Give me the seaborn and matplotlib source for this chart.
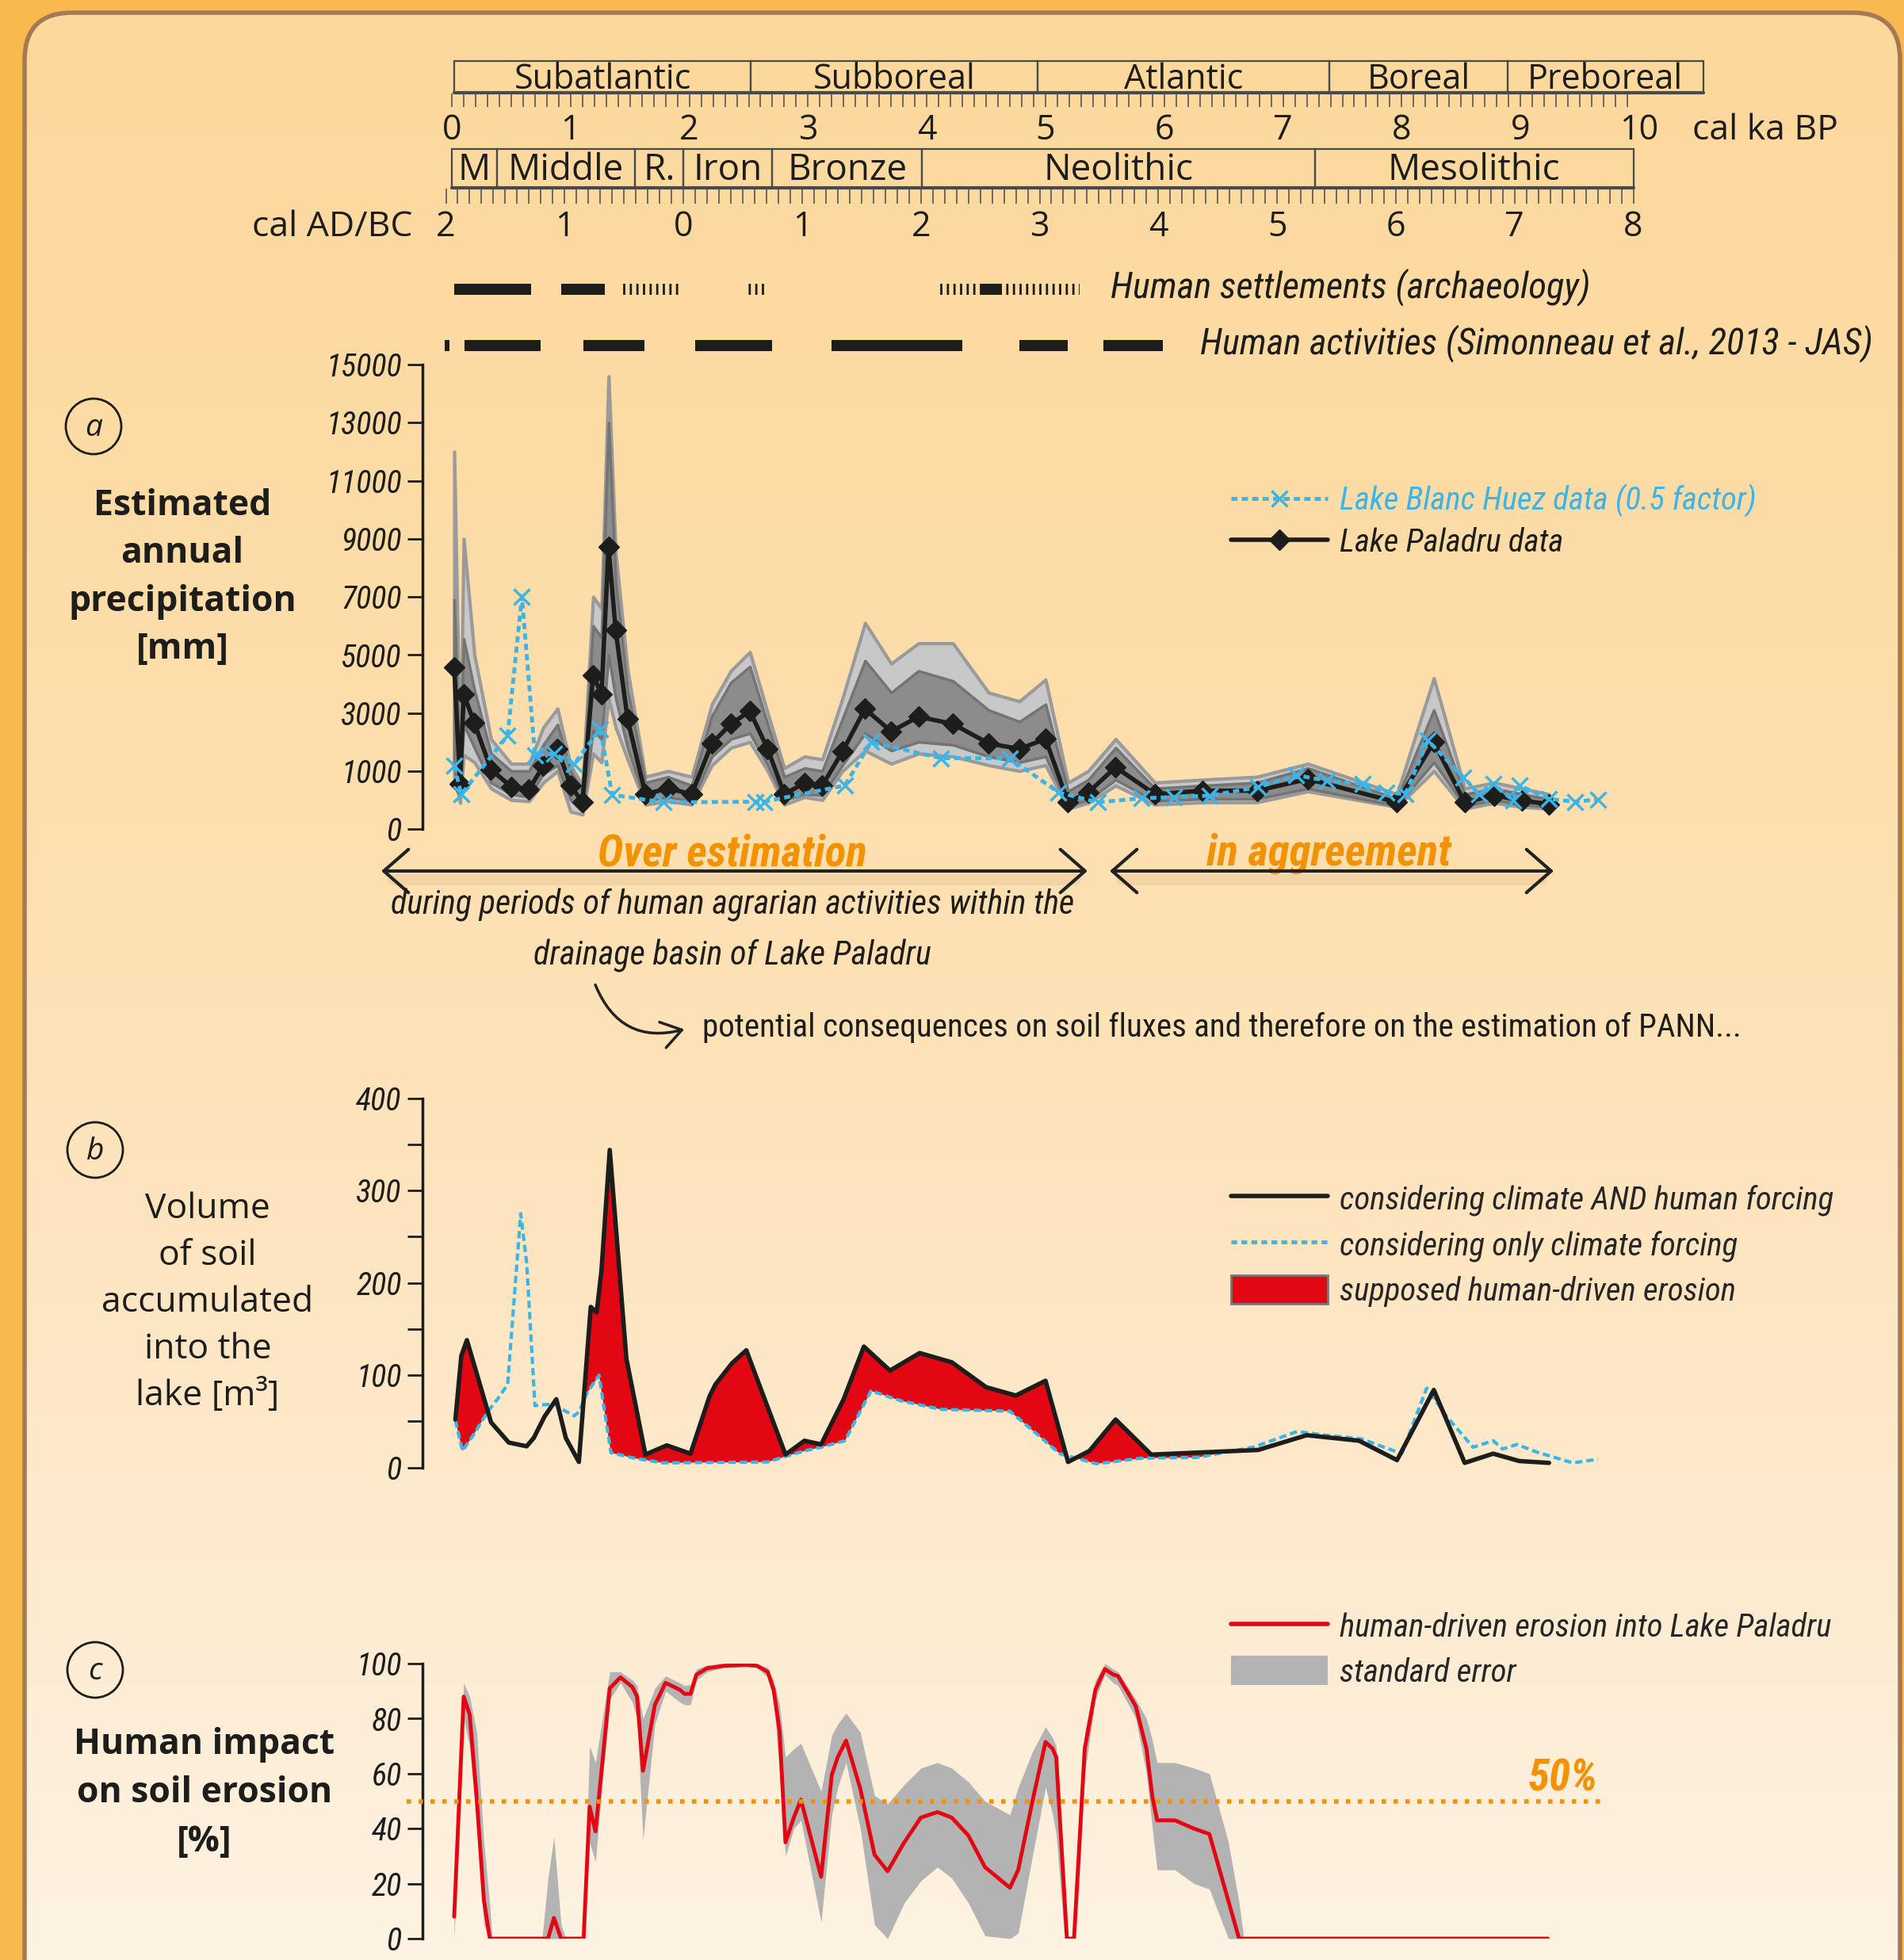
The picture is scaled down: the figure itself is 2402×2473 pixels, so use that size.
import numpy as np
import matplotlib
matplotlib.use("Agg")
import matplotlib.pyplot as plt
import seaborn as sns
from matplotlib import font_manager as fm
from matplotlib.textpath import TextToPath
from matplotlib.patches import FancyBboxPatch, Patch, Circle
from matplotlib.lines import Line2D
from matplotlib.colors import LinearSegmentedColormap
from matplotlib.ticker import FuncFormatter

sns.set_style("ticks")
SANS = ['Open Sans', 'DejaVu Sans']
plt.rcParams['font.family'] = SANS
plt.rcParams['hatch.linewidth'] = 2.0

# pick the narrowest installed family for the condensed italic labels
COND, COND_STRETCH = ['Roboto', 'DejaVu Sans'], 'normal'
_names = {f.name for f in fm.fontManager.ttflist}
for cand in ['Liberation Sans Narrow', 'Roboto Condensed', 'Open Sans Condensed', 'Noto Sans Condensed',
             'DejaVu Sans Condensed', 'Arial Narrow']:
    if cand in _names:
        COND = [cand, 'DejaVu Sans']
        break
else:
    for fam in ['Noto Sans', 'Open Sans', 'DejaVu Sans']:
        if any(f.name == fam and str(f.stretch) in ('condensed', 'semi-condensed', 'extra-condensed')
               for f in fm.fontManager.ttflist):
            COND, COND_STRETCH = [fam, 'DejaVu Sans'], 'condensed'
            break


def fit_size(s, target_px, weight='normal', style='italic'):
    prop = fm.FontProperties(family=COND, style=style, weight=weight, stretch=COND_STRETCH, size=10)
    w, _, _ = TextToPath().get_text_width_height_descent(s, prop, ismath=False)
    return 10 * target_px / (w * 100 / 72)


# ------------------------------------------------------------
# DATA (ages in cal ka BP)
# ------------------------------------------------------------
climate_periods = ['Subatlantic', 'Subboreal', 'Atlantic', 'Boreal', 'Preboreal']
climate_start = [0.02, 2.52, 4.93, 7.39, 8.89]
climate_end = [2.52, 4.93, 7.39, 8.89, 10.54]
archaeo_periods = ['M', 'Middle', 'R.', 'Iron', 'Bronze', 'Neolithic', 'Mesolithic']
archaeo_start = [0.0, 0.38, 1.54, 1.95, 2.70, 3.96, 7.27]
archaeo_end = [0.38, 1.54, 1.95, 2.70, 3.96, 7.27, 9.95]
bp_ticks = [0, 1, 2, 3, 4, 5, 6, 7, 8, 9, 10]
adbc_labels = ['2', '1', '0', '1', '2', '3', '4', '5', '6', '7', '8']
adbc_pos = [-0.05, 0.95, 1.95, 2.95, 3.95, 4.95, 5.95, 6.95, 7.95, 8.95, 9.95]

settle_solid_start = [0.02, 0.92, 4.46]
settle_solid_end = [0.67, 1.29, 4.63]
settle_hatch_start = [1.44, 2.46, 4.09]
settle_hatch_end = [1.94, 2.66, 5.29]
activ_start = [-0.06, 0.11, 1.11, 2.05, 3.20, 4.78, 5.49]
activ_end = [-0.02, 0.75, 1.62, 2.70, 4.30, 5.19, 5.99]

# panel a : Lake Paladru PANN
pal_age = [0.02, 0.07, 0.10, 0.19, 0.33, 0.50, 0.65, 0.77, 0.89, 1.00, 1.10, 1.19, 1.26, 1.32, 1.38, 1.48,
           1.63, 1.82, 2.02, 2.19, 2.35, 2.51, 2.66, 2.80, 2.97, 3.12, 3.29, 3.48, 3.70, 3.93, 4.22, 4.52,
           4.78, 5.00, 5.19, 5.36, 5.59, 5.92, 6.32, 6.78, 7.21, 7.96, 8.27, 8.53, 8.78, 9.01, 9.24]
pal_mean = [4580, 780, 3650, 2650, 1050, 730, 680, 1180, 1760, 750, 460, 4310, 3630, 8710, 5840, 2790,
            600, 700, 600, 1950, 2620, 3060, 1760, 600, 790, 750, 1670, 3140, 2360, 2870, 2620, 1950,
            1760, 2100, 460, 630, 1130, 600, 660, 660, 860, 460, 1990, 460, 580, 490, 430]
pal_in_hi = [6900, 1000, 5550, 3800, 1600, 1000, 1000, 1900, 2600, 1000, 650, 6000, 5600, 13000, 7500, 3800,
             800, 900, 750, 2900, 4050, 4600, 2600, 900, 1100, 1000, 2800, 4800, 3700, 4450, 4100, 3100,
             2700, 3300, 650, 850, 1800, 700, 750, 800, 1100, 520, 3100, 600, 700, 600, 520]
pal_in_lo = [1100, 600, 2600, 1800, 800, 600, 550, 950, 1200, 500, 300, 2400, 2100, 5000, 3500, 1800,
             480, 550, 480, 1500, 2100, 2300, 1200, 500, 600, 580, 1200, 2300, 1700, 2000, 1900, 1500,
             1300, 1500, 400, 500, 850, 480, 520, 520, 700, 400, 1300, 400, 500, 420, 380]
pal_out_hi = [12000, 1200, 9000, 5000, 2100, 1250, 1250, 2500, 3150, 1200, 750, 7000, 6600, 14600, 8500, 4500,
              900, 1000, 900, 3300, 4450, 5100, 3000, 1100, 1500, 1400, 3500, 6100, 4700, 5400, 5400, 3700,
              3400, 4150, 800, 1000, 2100, 800, 850, 900, 1250, 600, 4200, 700, 800, 700, 600]
pal_out_lo = [900, 450, 1550, 1300, 700, 500, 480, 800, 1000, 300, 250, 1600, 1300, 3500, 2500, 1400,
              420, 480, 420, 1200, 1800, 2000, 1000, 420, 550, 500, 1000, 1700, 1250, 1600, 1500, 1200,
              1000, 1200, 350, 450, 750, 420, 460, 460, 650, 380, 1000, 350, 450, 380, 350]

# panel a : Lake Blanc Huez (0.5 factor)
bh_age = [0.02, 0.08, 0.47, 0.59, 0.70, 0.86, 1.03, 1.25, 1.35, 1.78, 2.56, 2.63, 3.31, 3.53, 4.12, 4.70,
          5.11, 5.44, 5.81, 6.08, 6.38, 6.79, 7.11, 7.37, 7.67, 7.87, 8.03, 8.22, 8.52, 8.65, 8.77, 8.94,
          8.99, 9.24, 9.46, 9.65]
bh_pann = [1180, 600, 2220, 7010, 1550, 1590, 1240, 2450, 590, 460, 470, 470, 750, 1990, 1440, 1440,
           630, 460, 530, 550, 575, 720, 930, 830, 780, 630, 600, 2050, 890, 600, 780, 490,
           750, 520, 470, 510]

# panel b : soil volume
vol_h_age = [0.03, 0.08, 0.127, 0.33, 0.48, 0.63, 0.69, 0.78, 0.88, 0.96, 1.07, 1.17, 1.22, 1.26, 1.33, 1.47,
             1.63, 1.81, 2.01, 2.17, 2.22, 2.36, 2.48, 2.81, 2.97, 3.11, 3.30, 3.47, 3.69, 3.94, 4.21, 4.50,
             4.75, 5.00, 5.19, 5.37, 5.59, 5.89, 6.79, 7.20, 7.64, 7.96, 8.27, 8.53, 8.77, 8.99, 9.24]
vol_h = [52, 121, 138, 49, 27, 23, 32, 55, 74, 32, 6, 174, 168, 213, 344, 118,
         14, 24, 15, 77, 90, 113, 127, 14, 29, 25, 74, 131, 105, 124, 114, 87,
         78, 94, 6, 18, 52, 14, 19, 35, 29, 8, 84, 5, 15, 7, 5]
vol_c_age = [0.03, 0.09, 0.18, 0.30, 0.39, 0.47, 0.58, 0.63, 0.70, 0.86, 0.93, 1.03, 1.07, 1.14, 1.24, 1.34,
             1.54, 1.78, 2.66, 2.81, 2.97, 3.11, 3.31, 3.53, 3.79, 4.12, 4.70, 4.82, 5.12, 5.43, 5.80, 6.28,
             6.75, 7.12, 7.36, 7.66, 8.00, 8.21, 8.38, 8.60, 8.77, 8.85, 8.97, 9.13, 9.44, 9.65]
vol_c = [51, 18, 35, 60, 75, 90, 275, 222, 67, 69, 63, 56, 60, 81, 100, 16,
         10, 5, 6, 12, 18, 22, 29, 83, 72, 63, 61, 48, 15, 4, 10, 11,
         22, 39, 35, 31, 15, 86, 55, 22, 29, 20, 25, 17, 5, 9]

# panel c : human impact on soil erosion [%]
imp_age = [0.02, 0.10, 0.15, 0.21, 0.27, 0.32, 0.81, 0.86, 0.92, 1.11, 1.16, 1.21, 1.33, 1.42, 1.52, 1.56,
           1.61, 1.71, 1.80, 1.92, 1.96, 2.01, 2.06, 2.15, 2.29, 2.48, 2.57, 2.66, 2.71, 2.76, 2.81, 2.88,
           2.94, 3.11, 3.20, 3.25, 3.32, 3.44, 3.56, 3.67, 3.81, 3.95, 4.09, 4.21, 4.35, 4.49, 4.70, 4.77,
           4.89, 5.00, 5.06, 5.09, 5.18, 5.24, 5.33, 5.42, 5.50, 5.57, 5.61, 5.70, 5.76, 5.85, 5.90, 5.94,
           6.09, 6.25, 6.38, 6.63, 9.23]
imp = [8, 88, 81.5, 51, 14, 0, 0, 7.5, 0, 0, 48, 39, 91, 95, 91.5, 88,
       61, 85, 93, 90.5, 89, 89, 96, 98.3, 99.2, 99.5, 99.2, 97, 90.5, 75.5, 35, 44,
       50.5, 22.5, 59.5, 66, 72, 54.5, 30.5, 24.5, 35, 44, 46, 44, 37.5, 26, 18.5, 25,
       50, 71.5, 69, 66, 0, 0, 69, 90.5, 98, 96, 95.5, 89, 84.5, 69, 51.5, 43,
       43, 40, 38, 0, 0]
se_age = [0.02, 0.10, 0.15, 0.21, 0.27, 0.32, 0.34, 0.76, 0.81, 0.86, 0.92, 0.96, 1.11, 1.16, 1.21, 1.33,
          1.42, 1.52, 1.56, 1.61, 1.71, 1.80, 1.92, 1.96, 2.01, 2.06, 2.15, 2.29, 2.48, 2.57, 2.66, 2.71,
          2.76, 2.81, 2.88, 2.94, 3.11, 3.20, 3.25, 3.32, 3.44, 3.56, 3.67, 3.81, 3.95, 4.09, 4.21, 4.35,
          4.49, 4.70, 4.77, 4.89, 5.00, 5.06, 5.09, 5.16, 5.26, 5.33, 5.42, 5.50, 5.57, 5.61, 5.70, 5.76,
          5.85, 5.90, 5.94, 6.09, 6.25, 6.38, 6.54, 6.63, 6.67]
se_hi = [22, 93, 88, 75, 35, 12, 0, 0, 22, 37, 5, 0, 0, 70, 64, 97,
         97, 94, 92, 80, 91, 95.5, 93, 92, 92.4, 98, 99.5, 100, 100, 100, 98.5, 94,
         85, 66, 69, 71, 53.5, 74, 78, 82, 75, 52, 49, 56, 62, 64, 62, 57,
         50, 45, 55, 68, 77, 73, 70, 0, 0, 75, 94, 100, 98, 97, 91, 87,
         80, 72, 64, 64, 62, 60, 35, 13, 0]
se_lo = [0, 80, 70, 40, 5, 0, 0, 0, 0, 0, 0, 0, 0, 35, 28, 87,
         93, 86, 80, 36, 78, 90, 86, 85, 85, 94, 97, 98.5, 99, 98.5, 95, 87,
         60, 30, 40, 43, 6, 45, 55, 64, 40, 5, 0, 13, 21, 26, 22, 13,
         1, 0, 2, 30, 55, 45, 38, 0, 0, 60, 87, 96, 93, 92, 85, 80,
         60, 40, 25, 25, 20, 18, 0, 0, 0]
threshold = 50
threshold_span = [-0.38, 9.69]

# ------------------------------------------------------------
# LAYOUT / STYLE
# ------------------------------------------------------------
W, H = 2402, 2473
KA0, PXKA = 570, 149.8          # pixel of 0 ka, pixels per ka
AX_L, AX_R = 533, 2068
BLUE = '#3CB4E6'
RED = '#E30613'
ORANGE = '#F39200'
INK = '#1d1d1b'

# font sizes fitted to the widths measured on the original
S_LEG = min(fit_size('Lake Blanc Huez data (0.5 factor)', 525),
            fit_size('considering climate AND human forcing', 629),
            fit_size('human-driven erosion into Lake Paladru', 640))
S_TICK = fit_size('15000', 96)
S_HUM = fit_size('Human settlements (archaeology)', 605)
S_NOTE = fit_size('during periods of human agrarian activities within the', 863)
S_PANN = fit_size('potential consequences on soil fluxes and therefore on the estimation of PANN...', 1311,
                  style='normal')
S_BIG = fit_size('Over estimation', 340, weight='bold')
CF = dict(family=COND, stretch=COND_STRETCH)
LEG_PX = S_LEG * 100 / 72


def fig_rect(top, bottom):
    return [AX_L / W, 1 - bottom / H, (AX_R - AX_L) / W, (bottom - top) / H]


fig = plt.figure(figsize=(W / 100, H / 100), dpi=100)

# background frame + gradient panel
bg = fig.add_axes([0, 0, 1, 1], zorder=-10)
bg.add_patch(plt.Rectangle((0, 0), W, H, color='#F9B94E', zorder=0))
cmap = LinearSegmentedColormap.from_list('paper', ['#FCD89C', '#FDDDA9', '#FDE6C3', '#FEF2E2'])
im = bg.imshow(np.linspace(0, 1, 256).reshape(-1, 1), extent=[0, W, H, 0], cmap=cmap,
               aspect='auto', zorder=1)
panel = FancyBboxPatch((31, 16), W - 36, H + 200, boxstyle="round,pad=0,rounding_size=60",
                       fc='none', ec='#A47A55', lw=4, zorder=2)
bg.add_patch(panel)
im.set_clip_path(panel)
bg.set_xlim(0, W)
bg.set_ylim(H, 0)
bg.axis('off')

# overlay for free text (pixel coordinates)
ov = fig.add_axes([0, 0, 1, 1], zorder=6)
ov.set_xlim(0, W)
ov.set_ylim(H, 0)
ov.axis('off')

# timescale axes: x in ka BP, y in pixel rows
ts = fig.add_axes([0, 0, 1, 1], zorder=2)
ts.set_xlim(-KA0 / PXKA, (W - KA0) / PXKA)
ts.set_ylim(H, 0)
ts.axis('off')

cs, ce = np.array(climate_start), np.array(climate_end)
ts.barh(97, ce - cs, left=cs, height=40, facecolor='none', edgecolor='#4a4a4a', lw=1.6)
ts.plot([cs[0], ce[-1]], [117, 117], color='#4a4a4a', lw=3)
for name, a, b in zip(climate_periods, cs, ce):
    ts.text((a + b) / 2, 101, name, ha='center', va='center', fontsize=31, color=INK)
ts.vlines(np.arange(0, 9.96, 0.1), 118, 135, color='#555555', lw=1.2)
for k in bp_ticks:
    ts.text(k, 165, str(k), ha='center', va='center', fontsize=31, color=INK)
ts.text(10.45, 165, 'cal ka BP', ha='left', va='center', fontsize=32, color=INK)

as_, ae = np.array(archaeo_start), np.array(archaeo_end)
ts.barh(212, ae - as_, left=as_, height=49, facecolor='none', edgecolor='#4a4a4a', lw=1.6)
ts.plot([as_[0], ae[-1]], [237, 237], color='#4a4a4a', lw=3)
for name, a, b in zip(archaeo_periods, as_, ae):
    ts.text((a + b) / 2, 215, name, ha='center', va='center', fontsize=33, color=INK)
ts.vlines(np.arange(-0.05, 9.96, 0.1), 238, 257, color='#555555', lw=1.2)
for lab, p in zip(adbc_labels, adbc_pos):
    ts.text(p, 287, lab, ha='center', va='center', fontsize=31, color=INK)
ts.text(-0.33, 287, 'cal AD/BC', ha='right', va='center', fontsize=32, color=INK)

ss, se = np.array(settle_solid_start), np.array(settle_solid_end)
hs, he = np.array(settle_hatch_start), np.array(settle_hatch_end)
ts.barh(365, he - hs, left=hs, height=14, facecolor='none', edgecolor=INK, hatch='||', lw=0)
ts.barh(365, se - ss, left=ss, height=14, color=INK, lw=0)
a0, a1 = np.array(activ_start), np.array(activ_end)
ts.barh(436, a1 - a0, left=a0, height=14, color=INK, lw=0)
ts.text(5.55, 362, 'Human settlements (archaeology)', ha='left', va='center',
        fontsize=S_HUM, style='italic', color=INK, **CF)
ts.text(6.30, 433, 'Human activities (Simonneau et al., 2013 - JAS)', ha='left', va='center',
        fontsize=S_HUM, style='italic', color=INK, **CF)


def style_axis(ax):
    sns.despine(ax=ax, bottom=True)
    ax.set_facecolor('none')
    ax.spines['left'].set_linewidth(2.5)
    ax.spines['left'].set_color(INK)
    ax.tick_params(axis='y', direction='out', length=14, width=2, pad=5, colors=INK)
    ax.set_xticks([])
    ax.set_xlim(-0.247, 10.0)
    ax.grid(False)


def style_ticklabels(ax):
    for t in ax.get_yticklabels():
        t.set_fontfamily(COND)
        t.set_fontstretch(COND_STRETCH)
        t.set_fontstyle('italic')
        t.set_fontsize(S_TICK)


def legend_kw(row_px):
    return dict(loc='center left', bbox_transform=ov.transData, frameon=False, borderpad=0,
                borderaxespad=0, handlelength=122 / LEG_PX, handletextpad=15 / LEG_PX,
                labelspacing=(row_px - 0.99 * LEG_PX) / LEG_PX,
                prop=dict(family=COND, stretch=COND_STRETCH, style='italic', size=S_LEG))


# ------------------------------------------------------------
# PANEL A
# ------------------------------------------------------------
axa = fig.add_axes(fig_rect(460, 1046), zorder=3)


def fwd(v):
    v = np.asarray(v, float)
    return np.where(v < 1000, v / 1000, 1 + (v - 1000) / 2000)


def inv(u):
    u = np.asarray(u, float)
    return np.where(u < 1, u * 1000, 1000 + (u - 1) * 2000)


axa.set_yscale('function', functions=(fwd, inv))
axa.fill_between(pal_age, pal_out_lo, pal_out_hi, facecolor='#C8C8C8', edgecolor='#9A9A9A', lw=3, zorder=1)
axa.fill_between(pal_age, pal_in_lo, pal_in_hi, facecolor='#8C8C8C', edgecolor='#747474', lw=2.5, zorder=2)
sns.lineplot(x=pal_age, y=pal_mean, ax=axa, color=INK, lw=4, marker='D', markersize=13,
             markeredgecolor=INK, markeredgewidth=1, estimator=None, sort=False, zorder=3)
sns.lineplot(x=bh_age, y=bh_pann, ax=axa, color=BLUE, lw=3.5, linestyle=(0, (1.6, 1.1)), marker='x',
             markersize=15, markeredgecolor=BLUE, markeredgewidth=2.5, estimator=None, sort=False, zorder=4)
style_axis(axa)
axa.set_ylim(0, 15000)
yt = [0, 1000, 3000, 5000, 7000, 9000, 11000, 13000, 15000]
axa.set_yticks(yt, labels=[str(v) for v in yt])
style_ticklabels(axa)
axa.set_ylabel('')
axa.legend(handles=[Line2D([], [], color=BLUE, lw=3.5, ls=(0, (1.6, 1.1)), marker='x', ms=15, mew=2.5),
                    Line2D([], [], color=INK, lw=4, marker='D', ms=13)],
           labels=['Lake Blanc Huez data (0.5 factor)', 'Lake Paladru data'],
           bbox_to_anchor=(1553, 657), **legend_kw(53))
for t, c in zip(axa.get_legend().get_texts(), [BLUE, INK]):
    t.set_color(c)

# ------------------------------------------------------------
# PANEL B
# ------------------------------------------------------------
axb = fig.add_axes(fig_rect(1385.7, 1851.6), zorder=3)
lo_x = max(vol_h_age[0], vol_c_age[0])
hi_x = min(vol_h_age[-1], vol_c_age[-1])
grid = np.union1d(vol_h_age, vol_c_age)
grid = grid[(grid >= lo_x) & (grid <= hi_x)]
yh = np.interp(grid, vol_h_age, vol_h)
yc = np.interp(grid, vol_c_age, vol_c)
axb.fill_between(grid, yc, yh, where=yh > yc, interpolate=True, color=RED, lw=0, zorder=1)
sns.lineplot(x=vol_c_age, y=vol_c, ax=axb, color=BLUE, lw=3, linestyle=(0, (2.2, 1.2)),
             estimator=None, sort=False, zorder=2)
sns.lineplot(x=vol_h_age, y=vol_h, ax=axb, color=INK, lw=4, estimator=None, sort=False, zorder=3)
style_axis(axb)
axb.set_ylim(0, 400)
axb.set_yticks(np.arange(0, 401, 50))
axb.yaxis.set_major_formatter(FuncFormatter(lambda v, p: f"{int(v)}" if v % 100 == 0 else ""))
style_ticklabels(axb)
axb.set_ylabel('')
axb.legend(handles=[Line2D([], [], color=INK, lw=4),
                    Line2D([], [], color=BLUE, lw=3.5, ls=(0, (1.5, 1.1))),
                    Patch(facecolor=RED, edgecolor='#777777', lw=2)],
           labels=['considering climate AND human forcing', 'considering only climate forcing',
                   'supposed human-driven erosion'],
           bbox_to_anchor=(1553, 1571), handleheight=1.0, **legend_kw(57.5))

# ------------------------------------------------------------
# PANEL C
# ------------------------------------------------------------
axc = fig.add_axes(fig_rect(2099, 2446), zorder=3)
axc.fill_between(se_age, se_lo, se_hi, color='#B3B3B3', lw=0, zorder=1)
sns.lineplot(x=imp_age, y=imp, ax=axc, color=RED, lw=3.5, estimator=None, sort=False, zorder=3)
axc.plot(threshold_span, [threshold, threshold], color=ORANGE, lw=4, ls=(0, (1, 1.7)),
         clip_on=False, zorder=4)
style_axis(axc)
axc.set_ylim(0, 100)
axc.set_yticks(np.arange(0, 101, 20), labels=[str(v) for v in range(0, 101, 20)])
style_ticklabels(axc)
axc.set_ylabel('')
axc.legend(handles=[Line2D([], [], color=RED, lw=4), Patch(facecolor='#B3B3B3', edgecolor='none')],
           labels=['human-driven erosion into Lake Paladru', 'standard error'],
           bbox_to_anchor=(1553, 2081), handleheight=1.0, **legend_kw(57))

# ------------------------------------------------------------
# TEXT / ANNOTATIONS
# ------------------------------------------------------------
ov.text(230, 729, 'Estimated\nannual\nprecipitation\n[mm]', ha='center', va='center',
        fontsize=32, fontweight='bold', linespacing=1.46, color=INK)
ov.text(262, 1644, 'Volume\nof soil\naccumulated\ninto the\nlake [m³]', ha='center', va='center',
        fontsize=32, linespacing=1.43, color=INK)
ov.text(258, 2263, 'Human impact\non soil erosion\n[%]', ha='center', va='center',
        fontsize=32, fontweight='bold', linespacing=1.48, color=INK)
for letter, (cx, cy) in zip(['a', 'b', 'c'], [(118, 538), (120, 1451), (120, 2107)]):
    ov.add_patch(Circle((cx, cy), 35, fill=False, ec=INK, lw=2))
    ov.text(cx, cy + 2, letter, ha='center', va='center', fontsize=28, style='italic', color=INK)

ov.text(924, 1077, 'Over estimation', ha='center', va='center', fontsize=S_BIG,
        style='italic', fontweight='bold', color=ORANGE, **CF)
ov.text(1676, 1077, 'in aggreement', ha='center', va='center', fontsize=S_BIG,
        style='italic', fontweight='bold', color=ORANGE, **CF)
for x0, x1 in [(481, 1372), (1400, 1960)]:
    ov.plot([x0 + 15, x1 - 15], [1110, 1110], color='#8a6a40', alpha=0.10, lw=10, solid_capstyle='round')
    ov.annotate('', xy=(x0, 1099), xytext=(x1, 1099),
                arrowprops=dict(arrowstyle='<->,head_length=0.8,head_width=0.7', lw=3, color='#222222',
                                shrinkA=0, shrinkB=0, mutation_scale=28))
ov.text(924, 1142, 'during periods of human agrarian activities within the', ha='center', va='center',
        fontsize=S_NOTE, style='italic', color=INK, **CF)
ov.text(924, 1206, 'drainage basin of Lake Paladru', ha='center', va='center',
        fontsize=S_NOTE, style='italic', color=INK, **CF)
ov.annotate('', xy=(866, 1298), xytext=(750, 1240),
            arrowprops=dict(arrowstyle='->,head_length=0.6,head_width=0.4', lw=2.5, color='#222222',
                            connectionstyle='arc3,rad=0.45', mutation_scale=30))
ov.text(886, 1296, 'potential consequences on soil fluxes and therefore on the estimation of PANN...',
        ha='left', va='center', fontsize=S_PANN, color=INK, **CF)
ov.text(1972, 2244, '50%', ha='center', va='center', fontsize=S_BIG,
        style='italic', fontweight='bold', color=ORANGE, **CF)

fig.savefig('out.png', dpi=100)
